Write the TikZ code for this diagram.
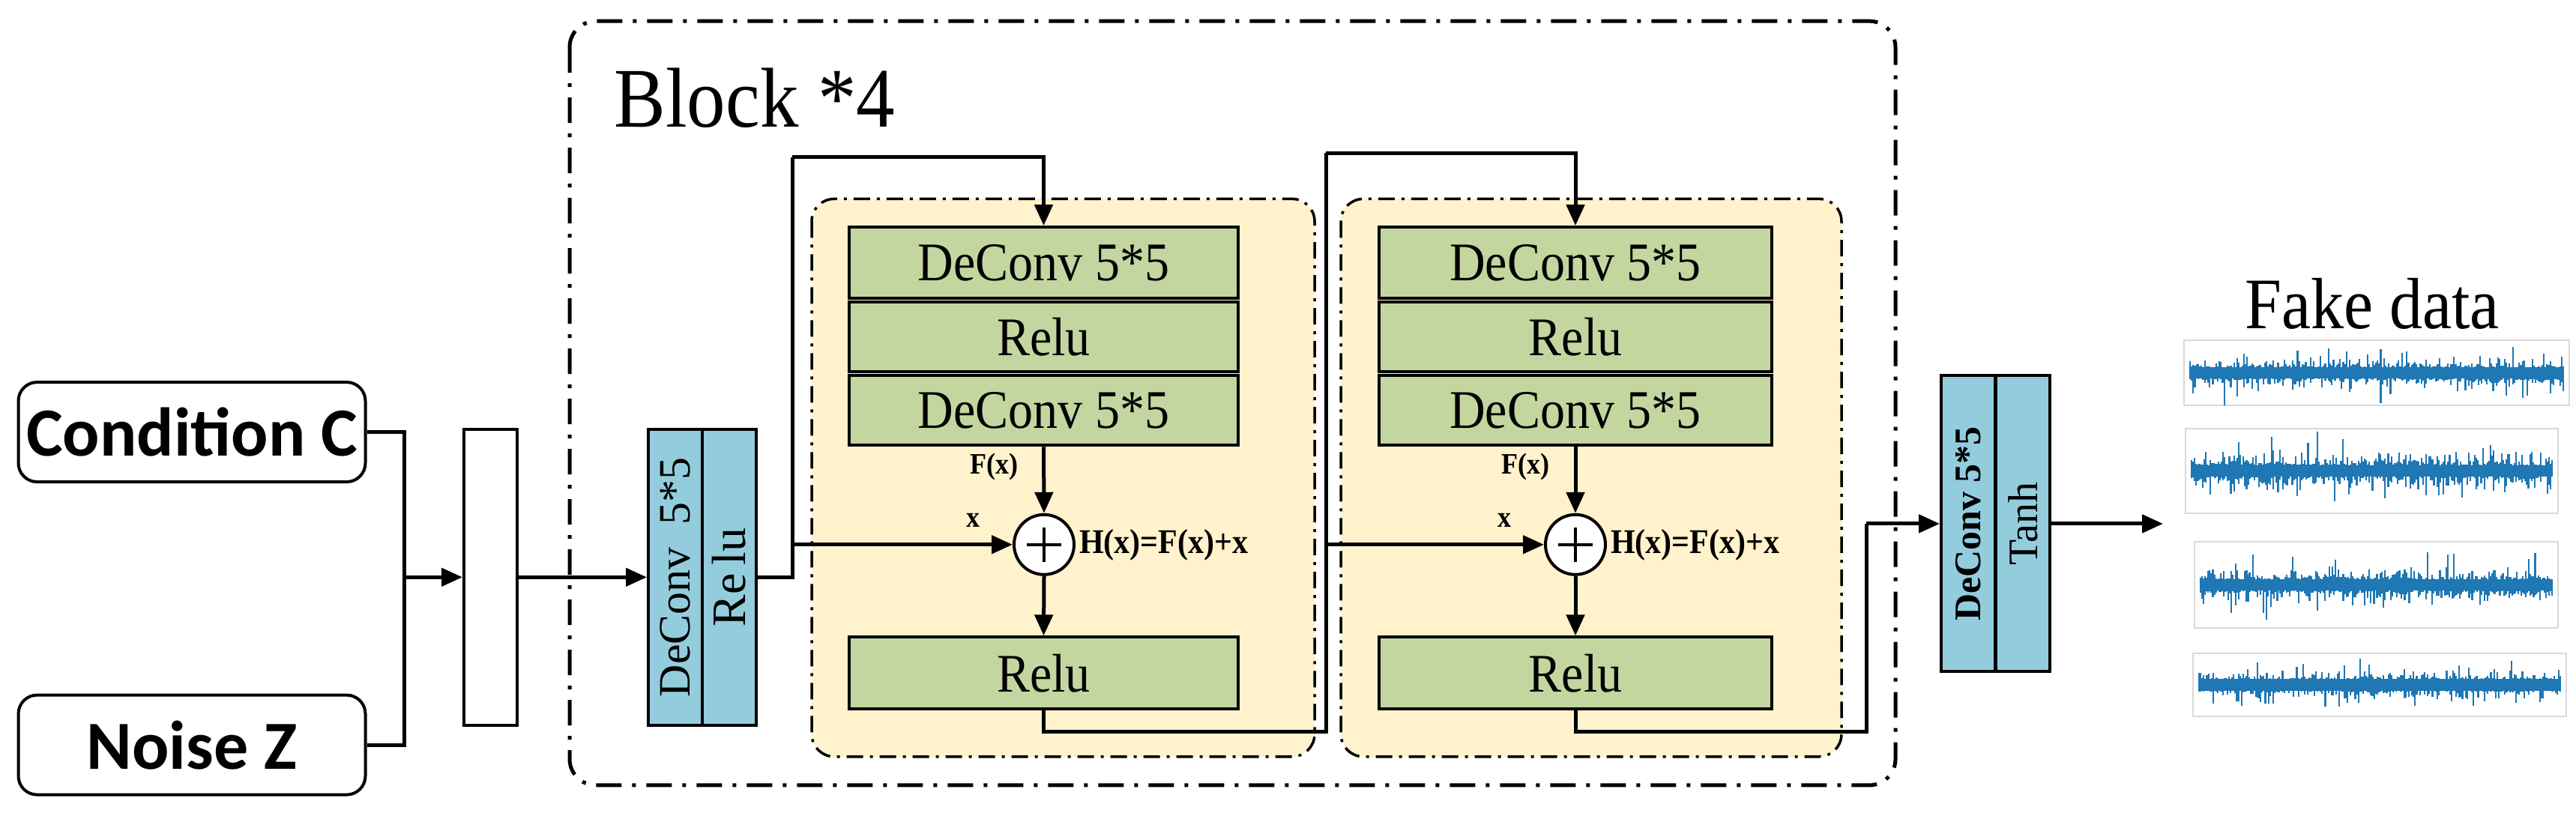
\documentclass[tikz,border=0pt]{standalone}
\usepackage{fontspec}
\usepackage{graphicx}
\setmainfont{Liberation Serif}
\newfontfamily\calib{Carlito}
\usetikzlibrary{arrows.meta,shapes.geometric}
\definecolor{gbox}{HTML}{C4D6A0}
\definecolor{ypan}{HTML}{FFF2CC}
\definecolor{bbox}{HTML}{93CDDD}
\definecolor{wave}{HTML}{1F77B4}
\newcommand{\st}[2]{\fontsize{#1}{#1}\selectfont\scalebox{1}[1.1]{#2}}
\tikzset{
  x=1pt,y=-0.626pt,
  ln/.style={line width=5pt},
  arr/.style={ln,-{Triangle[length=28pt,width=24pt]}},
  green/.style={draw,line width=4pt,fill=gbox,inner sep=0pt},
  blue/.style={draw,line width=4pt,fill=bbox,inner sep=0pt,minimum width=72pt,minimum height=395pt},
  rbox/.style={draw,line width=4pt,rounded corners=25pt,fill=white,minimum width=463pt,minimum height=133pt},
  panel/.style={line width=3.5pt,fill=ypan,rounded corners=30pt,dash pattern=on 22pt off 9pt on 4pt off 9pt},
}
\newcommand{\waveplot}[5]{% x1 y1 x2 y2 maxamp
  \draw[line width=2pt,gray!30] (#1,#2) rectangle (#3,#4);
  \pgfmathsetmacro\yc{(#2+#4)/2}
  \pgfmathsetmacro\wd{(#3-#1-16)/229}
  \foreach \k in {0,...,229}{
    \pgfmathsetmacro\xx{#1+8+\k*\wd}
    \pgfmathsetmacro\au{12+#5*rnd*rnd*rnd}
    \pgfmathsetmacro\ad{12+#5*rnd*rnd*rnd}
    \draw[wave,line width=2.2pt] (\xx,\yc-\au) -- (\xx,\yc+\ad);
  }
  \draw[wave,line width=12pt] (#1+8,\yc) -- (#3-8,\yc);
}
\begin{document}
\begin{tikzpicture}
\pgfmathsetseed{11}
\fill[white] (0,0) rectangle (3437,1751);
\useasboundingbox (0,0) rectangle (3437,1751);
% outer block
\draw[line width=5pt,rounded corners=35pt,dash pattern=on 34pt off 14pt on 5pt off 14pt] (760,45) rectangle (2529,1674);
\node at (1007,209) {\st{103}{Block *4}};
% panels
\draw[panel] (1083,424) rectangle (1754,1613);
\draw[panel] (1789,424) rectangle (2457,1613);
% inputs
\node[rbox] (cond) at (256,921) {\calib\bfseries\fontsize{92}{92}\selectfont Condition C};
\node[rbox] (noise) at (256,1588) {\calib\bfseries\fontsize{92}{92}\selectfont Noise Z};
\node[draw,line width=4pt,fill=white,minimum width=71pt,minimum height=395pt] (wr) at (654.5,1230.5) {};
\coordinate (j) at (539,1230.5);
\draw[ln] (cond.east) -| (j);
\draw[ln] (noise.east) -| (j);
\draw[arr] (j) -- (wr.west);
% first blue
\node[blue] (b1a) at (901,1230.5) {};
\node[blue] (b1b) at (972.5,1230.5) {};
\node[rotate=90] at (b1a) {\fontsize{60}{60}\selectfont DeConv\ \ 5*5};
\node[rotate=90] at (b1b) {\fontsize{64}{64}\selectfont Re\,lu};
\draw[arr] (wr.east) -- (b1a.west);
% panel 1
\node[green,minimum width=519pt,minimum height=95pt] (g1a) at (1392.5,560) {\st{66}{DeConv 5*5}};
\node[green,minimum width=519pt,minimum height=93pt] (g1b) at (1392.5,718) {\st{66}{Relu}};
\node[green,minimum width=519pt,minimum height=93pt] (g1c) at (1392.5,875) {\st{66}{DeConv 5*5}};
\node[green,minimum width=519pt,minimum height=96pt] (r1) at (1392.5,1435) {\st{66}{Relu}};
\node[draw,ellipse,line width=4pt,fill=white,minimum width=80pt,minimum height=80pt] (c1) at (1393,1161) {};
\draw[line width=4pt] (1370,1161) -- (1416,1161) (1393,1124) -- (1393,1198);
% panel 2
\node[green,minimum width=524pt,minimum height=95pt] (g2a) at (2102,560) {\st{66}{DeConv 5*5}};
\node[green,minimum width=524pt,minimum height=93pt] (g2b) at (2102,718) {\st{66}{Relu}};
\node[green,minimum width=524pt,minimum height=93pt] (g2c) at (2102,875) {\st{66}{DeConv 5*5}};
\node[green,minimum width=524pt,minimum height=96pt] (r2) at (2102,1435) {\st{66}{Relu}};
\node[draw,ellipse,line width=4pt,fill=white,minimum width=80pt,minimum height=80pt] (c2) at (2102,1161) {};
\draw[line width=4pt] (2079,1161) -- (2125,1161) (2102,1124) -- (2102,1198);
% labels
\foreach \dx in {0,709}{
  \node at (1326+\dx,995) {\bfseries\st{36}{F(x)}};
  \node at (1298+\dx,1110) {\bfseries\st{36}{x}};
  \node[anchor=west,inner sep=0pt] at (1440+\dx,1162) {\bfseries\st{42}{H(x)=F(x)+x}};
}
% connectors panel1
\coordinate (s1) at (1057,1230.5);
\coordinate (t1) at (1057,335);
\coordinate (k1) at (1057,1161);
\draw[ln] (b1b.east) -- (s1) -- (t1);
\draw[arr] (t1) -| (g1a.north);
\draw[arr] (k1) -- (c1.west);
\draw[arr] (g1c.south) -- (c1.north);
\draw[arr] (c1.south) -- (r1.north);
% connectors panel2
\coordinate (d1) at (1392.5,1560);
\coordinate (s2) at (1769,1560);
\coordinate (t2) at (1769,326);
\coordinate (k2) at (1769,1161);
\draw[ln] (r1.south) -- (d1) -- (s2) -- (t2);
\draw[arr] (t2) -| (g2a.north);
\draw[arr] (k2) -- (c2.west);
\draw[arr] (g2c.south) -- (c2.north);
\draw[arr] (c2.south) -- (r2.north);
% output blue
\node[blue] (b2a) at (2626,1116.5) {};
\node[blue] (b2b) at (2699,1116.5) {};
\node[rotate=90] at (b2a) {\bfseries\fontsize{50}{50}\selectfont DeConv 5*5};
\node[rotate=90] at (b2b) {\fontsize{56}{56}\selectfont Tanh};
\coordinate (d2) at (2102,1560);
\coordinate (s3) at (2490,1560);
\coordinate (u3) at (2490,1116.5);
\draw[ln] (r2.south) -- (d2) -- (s3) -- (u3);
\draw[arr] (u3) -- (b2a.west);
\coordinate (out) at (2886,1116.5);
\draw[arr] (b2b.east) -- (out);
% fake data
\node at (3165,647) {\st{88}{Fake data}};
\waveplot{2914}{725}{3428}{865}{62}
\waveplot{2916}{913}{3413}{1094}{80}
\waveplot{2928}{1155}{3413}{1339}{70}
\waveplot{2926}{1393}{3424}{1527}{58}
\end{tikzpicture}
\end{document}
